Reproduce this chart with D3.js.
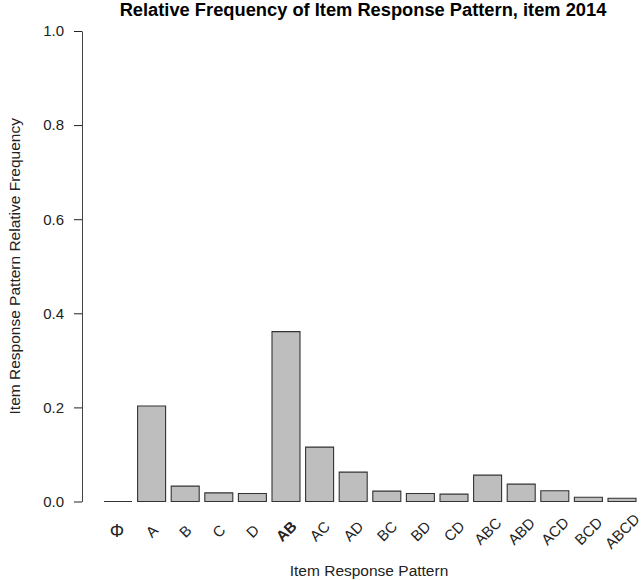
<!DOCTYPE html>
<html>
<head>
<meta charset="utf-8">
<script src="https://cdn.jsdelivr.net/npm/d3@7"></script>
<style>
  body { margin: 0; background: #fff; }
  text { font-family: "Liberation Sans", Arial, Helvetica, sans-serif; }
</style>
</head>
<body>
<div id="chart"></div>
<script>
const svgWidth = 642;
const svgHeight = 580;

// Data
const patterns = ["\u03A6", "A", "B", "C", "D", "AB", "AC", "AD", "BC", "BD", "CD", "ABC", "ABD", "ACD", "BCD", "ABCD"];
const frequencies = [0.0, 0.203, 0.0326, 0.0184, 0.017, 0.361, 0.1156, 0.0624, 0.022, 0.017, 0.0156, 0.056, 0.037, 0.0227, 0.009, 0.007];
const yTicks = [0, 0.2, 0.4, 0.6, 0.8, 1.0];
const highlight = "AB";

// plot region (R style, axes drawn at region edges)
const plot = { left: 82, top: 31, bottom: 501.5 };

var svg = d3.select("#chart")
    .append("svg")
    .attr("width", svgWidth)
    .attr("height", svgHeight);

// x scale: barplot with width 1, space 0.2
var xScale = d3.scaleBand()
    .domain(patterns)
    .range([104, 636])
    .paddingInner(0.2 / 1.2)
    .paddingOuter(0);

var yScale = d3.scaleLinear()
    .domain([0, 1])
    .range([plot.bottom, plot.top]);

// bars (paths so that a zero bar still shows its outline)
svg.append("g")
    .selectAll("path")
    .data(patterns)
    .enter()
    .append("path")
    .attr("d", (d, i) => {
        var x0 = xScale(d), x1 = x0 + xScale.bandwidth();
        var y0 = yScale(0), y1 = yScale(frequencies[i]);
        return `M${x0},${y0}L${x0},${y1}L${x1},${y1}L${x1},${y0}Z`;
    })
    .attr("fill", "#bebebe")
    .attr("stroke", "#333")
    .attr("stroke-width", 1.1);

// y axis
var leftAxis = d3.axisLeft(yScale)
    .tickValues(yTicks)
    .tickFormat(d3.format(".1f"))
    .tickSizeInner(8)
    .tickSizeOuter(0)
    .tickPadding(10);

var yAxis = svg.append("g")
    .attr("transform", `translate(${plot.left}, 0)`)
    .call(leftAxis);

yAxis.select(".domain").attr("stroke", "#444");
yAxis.selectAll(".tick line").attr("stroke", "#222");
yAxis.selectAll("text")
    .attr("font-size", "15px")
    .attr("font-family", "Liberation Sans, Arial, sans-serif")
    .attr("fill", "#222");

// x tick labels, rotated 45 degrees and centred under each bar
svg.append("g")
    .selectAll("text")
    .data(patterns)
    .enter()
    .append("text")
    .attr("transform", (d, i) => {
        var cx = xScale(d) + xScale.bandwidth() / 2;
        return i === 0 ? `translate(${cx - 1}, 531)` : `translate(${cx}, 531) rotate(-45)`;
    })
    .attr("text-anchor", "middle")
    .attr("dominant-baseline", "central")
    .attr("font-size", (d, i) => i === 0 ? "18px" : "15px")
    .attr("font-weight", d => d === highlight ? "bold" : "normal")
    .attr("fill", "#222")
    .text(d => d);

// titles
svg.append("text")
    .attr("x", 363)
    .attr("y", 16)
    .attr("text-anchor", "middle")
    .attr("font-size", "18.3px")
    .attr("font-weight", "bold")
    .text("Relative Frequency of Item Response Pattern, item 2014");

svg.append("text")
    .attr("x", 369)
    .attr("y", 576)
    .attr("text-anchor", "middle")
    .attr("font-size", "15.5px")
    .attr("fill", "#222")
    .text("Item Response Pattern");

svg.append("text")
    .attr("transform", `translate(20, ${(plot.top + plot.bottom) / 2}) rotate(-90)`)
    .attr("text-anchor", "middle")
    .attr("font-size", "15.5px")
    .attr("fill", "#222")
    .text("Item Response Pattern Relative Frequency");
</script>
</body>
</html>
